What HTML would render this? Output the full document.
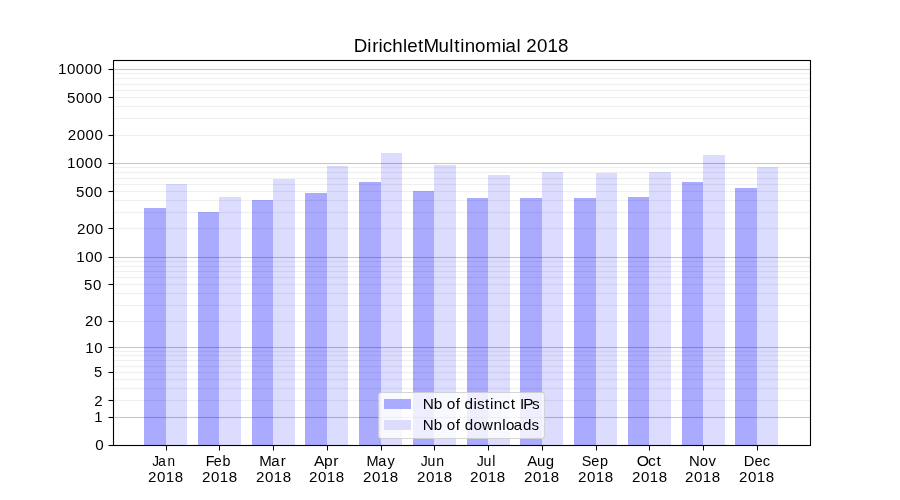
<!DOCTYPE html>
<html><head><meta charset="utf-8"><title>DirichletMultinomial 2018</title>
<style>
html,body{margin:0;padding:0;background:#fff;}
body{width:900px;height:500px;overflow:hidden;}
svg{display:block;will-change:transform;}
text{font-family:"Liberation Sans",sans-serif;fill:#000;}
</style></head><body>
<svg width="900" height="500" viewBox="0 0 900 500" shape-rendering="crispEdges">
<rect x="0" y="0" width="900" height="500" fill="#fff"/>
<rect x="144" y="208" width="22" height="237" fill="#aaaaff"/>
<rect x="166" y="184" width="21" height="261" fill="#dcdcff"/>
<rect x="198" y="212" width="21" height="233" fill="#aaaaff"/>
<rect x="219" y="197" width="22" height="248" fill="#dcdcff"/>
<rect x="252" y="200" width="21" height="245" fill="#aaaaff"/>
<rect x="273" y="179" width="22" height="266" fill="#dcdcff"/>
<rect x="305" y="193" width="22" height="252" fill="#aaaaff"/>
<rect x="327" y="166" width="21" height="279" fill="#dcdcff"/>
<rect x="359" y="182" width="22" height="263" fill="#aaaaff"/>
<rect x="381" y="153" width="21" height="292" fill="#dcdcff"/>
<rect x="413" y="191" width="21" height="254" fill="#aaaaff"/>
<rect x="434" y="165" width="22" height="280" fill="#dcdcff"/>
<rect x="467" y="198" width="21" height="247" fill="#aaaaff"/>
<rect x="488" y="175" width="22" height="270" fill="#dcdcff"/>
<rect x="520" y="198" width="22" height="247" fill="#aaaaff"/>
<rect x="542" y="172" width="21" height="273" fill="#dcdcff"/>
<rect x="574" y="198" width="22" height="247" fill="#aaaaff"/>
<rect x="596" y="173" width="21" height="272" fill="#dcdcff"/>
<rect x="628" y="197" width="21" height="248" fill="#aaaaff"/>
<rect x="649" y="172" width="22" height="273" fill="#dcdcff"/>
<rect x="682" y="182" width="21" height="263" fill="#aaaaff"/>
<rect x="703" y="155" width="22" height="290" fill="#dcdcff"/>
<rect x="735" y="188" width="22" height="257" fill="#aaaaff"/>
<rect x="757" y="167" width="21" height="278" fill="#dcdcff"/>
<rect x="113" y="400" width="698" height="1" fill="#000" fill-opacity="0.0620"/>
<rect x="113" y="399" width="698" height="1" fill="#000" fill-opacity="0.0034"/>
<rect x="113" y="401" width="698" height="1" fill="#000" fill-opacity="0.0034"/>
<rect x="113" y="388" width="698" height="1" fill="#000" fill-opacity="0.0620"/>
<rect x="113" y="387" width="698" height="1" fill="#000" fill-opacity="0.0034"/>
<rect x="113" y="389" width="698" height="1" fill="#000" fill-opacity="0.0034"/>
<rect x="113" y="379" width="698" height="1" fill="#000" fill-opacity="0.0620"/>
<rect x="113" y="378" width="698" height="1" fill="#000" fill-opacity="0.0034"/>
<rect x="113" y="380" width="698" height="1" fill="#000" fill-opacity="0.0034"/>
<rect x="113" y="372" width="698" height="1" fill="#000" fill-opacity="0.0620"/>
<rect x="113" y="371" width="698" height="1" fill="#000" fill-opacity="0.0034"/>
<rect x="113" y="373" width="698" height="1" fill="#000" fill-opacity="0.0034"/>
<rect x="113" y="366" width="698" height="1" fill="#000" fill-opacity="0.0620"/>
<rect x="113" y="365" width="698" height="1" fill="#000" fill-opacity="0.0034"/>
<rect x="113" y="367" width="698" height="1" fill="#000" fill-opacity="0.0034"/>
<rect x="113" y="360" width="698" height="1" fill="#000" fill-opacity="0.0620"/>
<rect x="113" y="359" width="698" height="1" fill="#000" fill-opacity="0.0034"/>
<rect x="113" y="361" width="698" height="1" fill="#000" fill-opacity="0.0034"/>
<rect x="113" y="355" width="698" height="1" fill="#000" fill-opacity="0.0620"/>
<rect x="113" y="354" width="698" height="1" fill="#000" fill-opacity="0.0034"/>
<rect x="113" y="356" width="698" height="1" fill="#000" fill-opacity="0.0034"/>
<rect x="113" y="351" width="698" height="1" fill="#000" fill-opacity="0.0620"/>
<rect x="113" y="350" width="698" height="1" fill="#000" fill-opacity="0.0034"/>
<rect x="113" y="352" width="698" height="1" fill="#000" fill-opacity="0.0034"/>
<rect x="113" y="321" width="698" height="1" fill="#000" fill-opacity="0.0620"/>
<rect x="113" y="320" width="698" height="1" fill="#000" fill-opacity="0.0034"/>
<rect x="113" y="322" width="698" height="1" fill="#000" fill-opacity="0.0034"/>
<rect x="113" y="305" width="698" height="1" fill="#000" fill-opacity="0.0620"/>
<rect x="113" y="304" width="698" height="1" fill="#000" fill-opacity="0.0034"/>
<rect x="113" y="306" width="698" height="1" fill="#000" fill-opacity="0.0034"/>
<rect x="113" y="293" width="698" height="1" fill="#000" fill-opacity="0.0620"/>
<rect x="113" y="292" width="698" height="1" fill="#000" fill-opacity="0.0034"/>
<rect x="113" y="294" width="698" height="1" fill="#000" fill-opacity="0.0034"/>
<rect x="113" y="284" width="698" height="1" fill="#000" fill-opacity="0.0620"/>
<rect x="113" y="283" width="698" height="1" fill="#000" fill-opacity="0.0034"/>
<rect x="113" y="285" width="698" height="1" fill="#000" fill-opacity="0.0034"/>
<rect x="113" y="277" width="698" height="1" fill="#000" fill-opacity="0.0620"/>
<rect x="113" y="276" width="698" height="1" fill="#000" fill-opacity="0.0034"/>
<rect x="113" y="278" width="698" height="1" fill="#000" fill-opacity="0.0034"/>
<rect x="113" y="271" width="698" height="1" fill="#000" fill-opacity="0.0620"/>
<rect x="113" y="270" width="698" height="1" fill="#000" fill-opacity="0.0034"/>
<rect x="113" y="272" width="698" height="1" fill="#000" fill-opacity="0.0034"/>
<rect x="113" y="266" width="698" height="1" fill="#000" fill-opacity="0.0620"/>
<rect x="113" y="265" width="698" height="1" fill="#000" fill-opacity="0.0034"/>
<rect x="113" y="267" width="698" height="1" fill="#000" fill-opacity="0.0034"/>
<rect x="113" y="261" width="698" height="1" fill="#000" fill-opacity="0.0620"/>
<rect x="113" y="260" width="698" height="1" fill="#000" fill-opacity="0.0034"/>
<rect x="113" y="262" width="698" height="1" fill="#000" fill-opacity="0.0034"/>
<rect x="113" y="228" width="698" height="1" fill="#000" fill-opacity="0.0620"/>
<rect x="113" y="227" width="698" height="1" fill="#000" fill-opacity="0.0034"/>
<rect x="113" y="229" width="698" height="1" fill="#000" fill-opacity="0.0034"/>
<rect x="113" y="212" width="698" height="1" fill="#000" fill-opacity="0.0620"/>
<rect x="113" y="211" width="698" height="1" fill="#000" fill-opacity="0.0034"/>
<rect x="113" y="213" width="698" height="1" fill="#000" fill-opacity="0.0034"/>
<rect x="113" y="200" width="698" height="1" fill="#000" fill-opacity="0.0620"/>
<rect x="113" y="199" width="698" height="1" fill="#000" fill-opacity="0.0034"/>
<rect x="113" y="201" width="698" height="1" fill="#000" fill-opacity="0.0034"/>
<rect x="113" y="191" width="698" height="1" fill="#000" fill-opacity="0.0620"/>
<rect x="113" y="190" width="698" height="1" fill="#000" fill-opacity="0.0034"/>
<rect x="113" y="192" width="698" height="1" fill="#000" fill-opacity="0.0034"/>
<rect x="113" y="184" width="698" height="1" fill="#000" fill-opacity="0.0620"/>
<rect x="113" y="183" width="698" height="1" fill="#000" fill-opacity="0.0034"/>
<rect x="113" y="185" width="698" height="1" fill="#000" fill-opacity="0.0034"/>
<rect x="113" y="178" width="698" height="1" fill="#000" fill-opacity="0.0620"/>
<rect x="113" y="177" width="698" height="1" fill="#000" fill-opacity="0.0034"/>
<rect x="113" y="179" width="698" height="1" fill="#000" fill-opacity="0.0034"/>
<rect x="113" y="172" width="698" height="1" fill="#000" fill-opacity="0.0620"/>
<rect x="113" y="171" width="698" height="1" fill="#000" fill-opacity="0.0034"/>
<rect x="113" y="173" width="698" height="1" fill="#000" fill-opacity="0.0034"/>
<rect x="113" y="167" width="698" height="1" fill="#000" fill-opacity="0.0620"/>
<rect x="113" y="166" width="698" height="1" fill="#000" fill-opacity="0.0034"/>
<rect x="113" y="168" width="698" height="1" fill="#000" fill-opacity="0.0034"/>
<rect x="113" y="135" width="698" height="1" fill="#000" fill-opacity="0.0620"/>
<rect x="113" y="134" width="698" height="1" fill="#000" fill-opacity="0.0034"/>
<rect x="113" y="136" width="698" height="1" fill="#000" fill-opacity="0.0034"/>
<rect x="113" y="118" width="698" height="1" fill="#000" fill-opacity="0.0620"/>
<rect x="113" y="117" width="698" height="1" fill="#000" fill-opacity="0.0034"/>
<rect x="113" y="119" width="698" height="1" fill="#000" fill-opacity="0.0034"/>
<rect x="113" y="106" width="698" height="1" fill="#000" fill-opacity="0.0620"/>
<rect x="113" y="105" width="698" height="1" fill="#000" fill-opacity="0.0034"/>
<rect x="113" y="107" width="698" height="1" fill="#000" fill-opacity="0.0034"/>
<rect x="113" y="97" width="698" height="1" fill="#000" fill-opacity="0.0620"/>
<rect x="113" y="96" width="698" height="1" fill="#000" fill-opacity="0.0034"/>
<rect x="113" y="98" width="698" height="1" fill="#000" fill-opacity="0.0034"/>
<rect x="113" y="90" width="698" height="1" fill="#000" fill-opacity="0.0620"/>
<rect x="113" y="89" width="698" height="1" fill="#000" fill-opacity="0.0034"/>
<rect x="113" y="91" width="698" height="1" fill="#000" fill-opacity="0.0034"/>
<rect x="113" y="84" width="698" height="1" fill="#000" fill-opacity="0.0620"/>
<rect x="113" y="83" width="698" height="1" fill="#000" fill-opacity="0.0034"/>
<rect x="113" y="85" width="698" height="1" fill="#000" fill-opacity="0.0034"/>
<rect x="113" y="78" width="698" height="1" fill="#000" fill-opacity="0.0620"/>
<rect x="113" y="77" width="698" height="1" fill="#000" fill-opacity="0.0034"/>
<rect x="113" y="79" width="698" height="1" fill="#000" fill-opacity="0.0034"/>
<rect x="113" y="73" width="698" height="1" fill="#000" fill-opacity="0.0620"/>
<rect x="113" y="72" width="698" height="1" fill="#000" fill-opacity="0.0034"/>
<rect x="113" y="74" width="698" height="1" fill="#000" fill-opacity="0.0034"/>
<rect x="113" y="417" width="698" height="1" fill="#000" fill-opacity="0.2200"/>
<rect x="113" y="416" width="698" height="1" fill="#000" fill-opacity="0.0121"/>
<rect x="113" y="418" width="698" height="1" fill="#000" fill-opacity="0.0121"/>
<rect x="113" y="347" width="698" height="1" fill="#000" fill-opacity="0.2200"/>
<rect x="113" y="346" width="698" height="1" fill="#000" fill-opacity="0.0121"/>
<rect x="113" y="348" width="698" height="1" fill="#000" fill-opacity="0.0121"/>
<rect x="113" y="257" width="698" height="1" fill="#000" fill-opacity="0.2200"/>
<rect x="113" y="256" width="698" height="1" fill="#000" fill-opacity="0.0121"/>
<rect x="113" y="258" width="698" height="1" fill="#000" fill-opacity="0.0121"/>
<rect x="113" y="163" width="698" height="1" fill="#000" fill-opacity="0.2200"/>
<rect x="113" y="162" width="698" height="1" fill="#000" fill-opacity="0.0121"/>
<rect x="113" y="164" width="698" height="1" fill="#000" fill-opacity="0.0121"/>
<rect x="113" y="69" width="698" height="1" fill="#000" fill-opacity="0.2200"/>
<rect x="113" y="68" width="698" height="1" fill="#000" fill-opacity="0.0121"/>
<rect x="113" y="70" width="698" height="1" fill="#000" fill-opacity="0.0121"/>
<rect x="114" y="59" width="696" height="1" fill="#000" fill-opacity="0.055"/>
<rect x="114" y="61" width="696" height="1" fill="#000" fill-opacity="0.055"/>
<rect x="113" y="60" width="698" height="1" fill="#000" fill-opacity="1"/>
<rect x="114" y="444" width="696" height="1" fill="#000" fill-opacity="0.055"/>
<rect x="114" y="446" width="696" height="1" fill="#000" fill-opacity="0.055"/>
<rect x="113" y="445" width="698" height="1" fill="#000" fill-opacity="1"/>
<rect x="112" y="61" width="1" height="384" fill="#000" fill-opacity="0.055"/>
<rect x="114" y="61" width="1" height="384" fill="#000" fill-opacity="0.055"/>
<rect x="113" y="60" width="1" height="386" fill="#000" fill-opacity="1"/>
<rect x="809" y="61" width="1" height="384" fill="#000" fill-opacity="0.055"/>
<rect x="811" y="61" width="1" height="384" fill="#000" fill-opacity="0.055"/>
<rect x="810" y="60" width="1" height="386" fill="#000" fill-opacity="1"/>
<rect x="109" y="445" width="4" height="1" fill="#000"/>
<rect x="108" y="445" width="1" height="1" fill="#000" fill-opacity="0.5"/>
<rect x="109" y="444" width="4" height="1" fill="#000" fill-opacity="0.055"/>
<rect x="109" y="446" width="4" height="1" fill="#000" fill-opacity="0.055"/>
<rect x="109" y="417" width="4" height="1" fill="#000"/>
<rect x="108" y="417" width="1" height="1" fill="#000" fill-opacity="0.5"/>
<rect x="109" y="416" width="4" height="1" fill="#000" fill-opacity="0.055"/>
<rect x="109" y="418" width="4" height="1" fill="#000" fill-opacity="0.055"/>
<rect x="109" y="400" width="4" height="1" fill="#000"/>
<rect x="108" y="400" width="1" height="1" fill="#000" fill-opacity="0.5"/>
<rect x="109" y="399" width="4" height="1" fill="#000" fill-opacity="0.055"/>
<rect x="109" y="401" width="4" height="1" fill="#000" fill-opacity="0.055"/>
<rect x="109" y="372" width="4" height="1" fill="#000"/>
<rect x="108" y="372" width="1" height="1" fill="#000" fill-opacity="0.5"/>
<rect x="109" y="371" width="4" height="1" fill="#000" fill-opacity="0.055"/>
<rect x="109" y="373" width="4" height="1" fill="#000" fill-opacity="0.055"/>
<rect x="109" y="347" width="4" height="1" fill="#000"/>
<rect x="108" y="347" width="1" height="1" fill="#000" fill-opacity="0.5"/>
<rect x="109" y="346" width="4" height="1" fill="#000" fill-opacity="0.055"/>
<rect x="109" y="348" width="4" height="1" fill="#000" fill-opacity="0.055"/>
<rect x="109" y="321" width="4" height="1" fill="#000"/>
<rect x="108" y="321" width="1" height="1" fill="#000" fill-opacity="0.5"/>
<rect x="109" y="320" width="4" height="1" fill="#000" fill-opacity="0.055"/>
<rect x="109" y="322" width="4" height="1" fill="#000" fill-opacity="0.055"/>
<rect x="109" y="284" width="4" height="1" fill="#000"/>
<rect x="108" y="284" width="1" height="1" fill="#000" fill-opacity="0.5"/>
<rect x="109" y="283" width="4" height="1" fill="#000" fill-opacity="0.055"/>
<rect x="109" y="285" width="4" height="1" fill="#000" fill-opacity="0.055"/>
<rect x="109" y="257" width="4" height="1" fill="#000"/>
<rect x="108" y="257" width="1" height="1" fill="#000" fill-opacity="0.5"/>
<rect x="109" y="256" width="4" height="1" fill="#000" fill-opacity="0.055"/>
<rect x="109" y="258" width="4" height="1" fill="#000" fill-opacity="0.055"/>
<rect x="109" y="228" width="4" height="1" fill="#000"/>
<rect x="108" y="228" width="1" height="1" fill="#000" fill-opacity="0.5"/>
<rect x="109" y="227" width="4" height="1" fill="#000" fill-opacity="0.055"/>
<rect x="109" y="229" width="4" height="1" fill="#000" fill-opacity="0.055"/>
<rect x="109" y="191" width="4" height="1" fill="#000"/>
<rect x="108" y="191" width="1" height="1" fill="#000" fill-opacity="0.5"/>
<rect x="109" y="190" width="4" height="1" fill="#000" fill-opacity="0.055"/>
<rect x="109" y="192" width="4" height="1" fill="#000" fill-opacity="0.055"/>
<rect x="109" y="163" width="4" height="1" fill="#000"/>
<rect x="108" y="163" width="1" height="1" fill="#000" fill-opacity="0.5"/>
<rect x="109" y="162" width="4" height="1" fill="#000" fill-opacity="0.055"/>
<rect x="109" y="164" width="4" height="1" fill="#000" fill-opacity="0.055"/>
<rect x="109" y="135" width="4" height="1" fill="#000"/>
<rect x="108" y="135" width="1" height="1" fill="#000" fill-opacity="0.5"/>
<rect x="109" y="134" width="4" height="1" fill="#000" fill-opacity="0.055"/>
<rect x="109" y="136" width="4" height="1" fill="#000" fill-opacity="0.055"/>
<rect x="109" y="97" width="4" height="1" fill="#000"/>
<rect x="108" y="97" width="1" height="1" fill="#000" fill-opacity="0.5"/>
<rect x="109" y="96" width="4" height="1" fill="#000" fill-opacity="0.055"/>
<rect x="109" y="98" width="4" height="1" fill="#000" fill-opacity="0.055"/>
<rect x="109" y="69" width="4" height="1" fill="#000"/>
<rect x="108" y="69" width="1" height="1" fill="#000" fill-opacity="0.5"/>
<rect x="109" y="68" width="4" height="1" fill="#000" fill-opacity="0.055"/>
<rect x="109" y="70" width="4" height="1" fill="#000" fill-opacity="0.055"/>
<rect x="166" y="446" width="1" height="4" fill="#000"/>
<rect x="166" y="450" width="1" height="1" fill="#000" fill-opacity="0.5"/>
<rect x="219" y="446" width="1" height="4" fill="#000"/>
<rect x="219" y="450" width="1" height="1" fill="#000" fill-opacity="0.5"/>
<rect x="273" y="446" width="1" height="4" fill="#000"/>
<rect x="273" y="450" width="1" height="1" fill="#000" fill-opacity="0.5"/>
<rect x="327" y="446" width="1" height="4" fill="#000"/>
<rect x="327" y="450" width="1" height="1" fill="#000" fill-opacity="0.5"/>
<rect x="381" y="446" width="1" height="4" fill="#000"/>
<rect x="381" y="450" width="1" height="1" fill="#000" fill-opacity="0.5"/>
<rect x="434" y="446" width="1" height="4" fill="#000"/>
<rect x="434" y="450" width="1" height="1" fill="#000" fill-opacity="0.5"/>
<rect x="488" y="446" width="1" height="4" fill="#000"/>
<rect x="488" y="450" width="1" height="1" fill="#000" fill-opacity="0.5"/>
<rect x="542" y="446" width="1" height="4" fill="#000"/>
<rect x="542" y="450" width="1" height="1" fill="#000" fill-opacity="0.5"/>
<rect x="596" y="446" width="1" height="4" fill="#000"/>
<rect x="596" y="450" width="1" height="1" fill="#000" fill-opacity="0.5"/>
<rect x="649" y="446" width="1" height="4" fill="#000"/>
<rect x="649" y="450" width="1" height="1" fill="#000" fill-opacity="0.5"/>
<rect x="703" y="446" width="1" height="4" fill="#000"/>
<rect x="703" y="450" width="1" height="1" fill="#000" fill-opacity="0.5"/>
<rect x="757" y="446" width="1" height="4" fill="#000"/>
<rect x="757" y="450" width="1" height="1" fill="#000" fill-opacity="0.5"/>
<rect x="378.625" y="392.5" width="165.75" height="46.056" rx="2.78" ry="2.78" fill="#fff" fill-opacity="0.8" stroke="#ccc" stroke-opacity="0.8" stroke-width="1.111" shape-rendering="geometricPrecision"/>
<rect x="384" y="399" width="27" height="10" fill="#aaaaff"/>
<rect x="384" y="420" width="27" height="10" fill="#dcdcff"/>
<text transform="scale(1.0603,1)" x="333.65 346.28 350.97 357.08 360.92 369.91 379.99 384.08 394.35 399.34 413.48 423.60 428.32 434.12 438.34 448.08 458.11 473.28 476.69 487.23 491.15 496.23 506.41 516.29 526.36" y="52" font-size="17.66">DirichletMultinomial 2018</text>
<text transform="scale(1.0361,1)" x="91.94" y="450" font-size="14.72">0</text>
<text transform="scale(1.0126,1)" x="92.99" y="422" font-size="14.72">1</text>
<text transform="scale(1.0173,1)" x="92.70" y="406" font-size="14.72">2</text>
<text transform="scale(1.0066,1)" x="93.31" y="377" font-size="14.72">5</text>
<text transform="scale(1.0243,1)" x="83.34 92.04" y="353" font-size="14.72">10</text>
<text transform="scale(1.0267,1)" x="82.80 91.58" y="326" font-size="14.72">20</text>
<text transform="scale(1.0213,1)" x="82.36 91.06" y="290" font-size="14.72">50</text>
<text transform="scale(1.0282,1)" x="74.25 82.92 91.50" y="262" font-size="14.72">100</text>
<text transform="scale(1.0298,1)" x="74.77 83.52 92.09" y="234" font-size="14.72">200</text>
<text transform="scale(1.0262,1)" x="74.15 82.80 91.40" y="197" font-size="14.72">500</text>
<text transform="scale(1.0302,1)" x="65.12 73.77 82.34 90.91" y="168" font-size="14.72">1000</text>
<text transform="scale(1.0314,1)" x="65.68 74.42 82.98 91.54" y="140" font-size="14.72">2000</text>
<text transform="scale(1.0287,1)" x="65.21 73.84 82.42 91.01" y="103" font-size="14.72">5000</text>
<text transform="scale(1.0314,1)" x="56.32 64.96 73.51 82.07 90.63" y="74" font-size="14.72">10000</text>
<text transform="scale(0.9228,1)" x="164.96 171.53 181.48" y="466" font-size="14.72">Jan</text>
<text transform="scale(1.0269,1)" x="144.14 152.91 161.43 170.11" y="482" font-size="14.72">2018</text>
<text transform="scale(0.9723,1)" x="211.60 219.77 228.75" y="466" font-size="14.72">Feb</text>
<text transform="scale(1.0269,1)" x="196.73 205.50 214.02 222.70" y="482" font-size="14.72">2018</text>
<text transform="scale(1.0224,1)" x="253.68 265.21 274.57" y="466" font-size="14.72">Mar</text>
<text transform="scale(1.0269,1)" x="249.31 258.09 266.61 275.28" y="482" font-size="14.72">2018</text>
<text transform="scale(1.0617,1)" x="295.69 305.20 313.83" y="466" font-size="14.72">Apr</text>
<text transform="scale(1.0269,1)" x="300.93 309.70 318.22 326.90" y="482" font-size="14.72">2018</text>
<text transform="scale(0.9858,1)" x="371.87 383.76 393.18" y="466" font-size="14.72">May</text>
<text transform="scale(1.0269,1)" x="353.51 362.29 370.81 379.48" y="482" font-size="14.72">2018</text>
<text transform="scale(0.9565,1)" x="440.01 446.96 456.22" y="466" font-size="14.72">Jun</text>
<text transform="scale(1.0269,1)" x="406.10 414.88 423.39 432.07" y="482" font-size="14.72">2018</text>
<text transform="scale(0.9628,1)" x="495.26 502.16 511.21" y="466" font-size="14.72">Jul</text>
<text transform="scale(1.0269,1)" x="457.72 466.49 475.01 483.68" y="482" font-size="14.72">2018</text>
<text transform="scale(1.0177,1)" x="517.97 527.74 536.34" y="466" font-size="14.72">Aug</text>
<text transform="scale(1.0269,1)" x="510.30 519.08 527.60 536.27" y="482" font-size="14.72">2018</text>
<text transform="scale(0.9804,1)" x="593.37 602.98 611.89" y="466" font-size="14.72">Sep</text>
<text transform="scale(1.0269,1)" x="562.89 571.67 580.18 588.86" y="482" font-size="14.72">2018</text>
<text transform="scale(1.0662,1)" x="597.30 607.88 615.77" y="466" font-size="14.72">Oct</text>
<text transform="scale(1.0269,1)" x="615.48 624.25 632.77 641.45" y="482" font-size="14.72">2018</text>
<text transform="scale(1.0127,1)" x="680.33 690.87 699.53" y="466" font-size="14.72">Nov</text>
<text transform="scale(1.0269,1)" x="667.09 675.87 684.38 693.06" y="482" font-size="14.72">2018</text>
<text transform="scale(1.0043,1)" x="740.46 751.26 759.53" y="466" font-size="14.72">Dec</text>
<text transform="scale(1.0269,1)" x="719.68 728.45 736.97 745.65" y="482" font-size="14.72">2018</text>
<text transform="scale(1.0454,1)" x="404.42 414.90 423.08 427.32 435.92 440.01 444.41 453.00 456.35 463.91 468.81 472.42 480.50 488.51 492.60 497.32 500.63 508.97" y="409" font-size="14.72">Nb of distinct IPs</text>
<text transform="scale(1.0279,1)" x="411.40 422.04 430.23 434.67 443.39 447.48 452.05 460.54 468.96 480.01 488.59 492.15 499.89 508.75 517.14" y="430" font-size="14.72">Nb of downloads</text>
</svg>
</body></html>
